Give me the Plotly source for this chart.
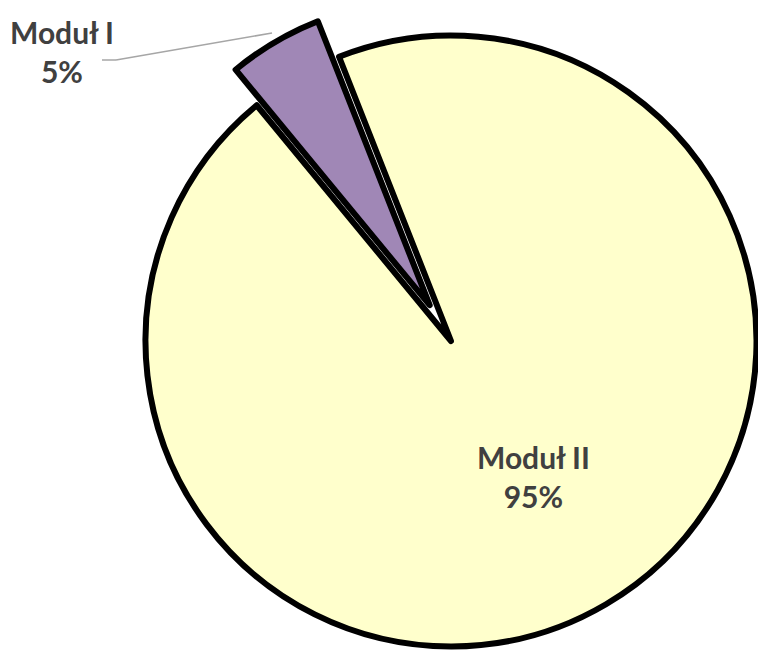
import math
import plotly.graph_objects as go

# Share of each module
labels = ["Moduł I", "Moduł II"]
values = [5, 95]
colors = ["#A087B6", "#FFFFCC"]

W, H = 758, 650
R = 305.5            # pie radius in px
LW = 6               # outline width
CX, CY = 451, 341    # centre of the main pie
PULL_PX = 42         # how far the small slice is pulled out
ROT = -39.5          # start angle of the first slice (deg, clockwise from 12 o'clock)

total = sum(values)
mid = math.radians(ROT + 360 * values[0] / total / 2)
PX = CX + PULL_PX * math.sin(mid)
PY = CY - PULL_PX * math.cos(mid)


def domain(cx, cy, r):
    return dict(
        x=[max(0, (cx - r) / W), min(1, (cx + r) / W)],
        y=[max(0, 1 - (cy + r) / H), min(1, 1 - (cy - r) / H)],
    )


def pie(cx, cy, show):
    fill = [c if s else "rgba(0,0,0,0)" for c, s in zip(colors, show)]
    widths = [LW if s else 0 for s in show]
    return go.Pie(
        labels=labels,
        values=values,
        sort=False,
        direction="clockwise",
        rotation=ROT,
        textinfo="none",
        hoverinfo="label+percent",
        showlegend=False,
        domain=domain(cx, cy, R),
        marker=dict(colors=fill, line=dict(color="black", width=widths)),
    )


fig = go.Figure()
fig.add_trace(pie(CX, CY, [False, True]))   # large slice
fig.add_trace(pie(PX, PY, [True, False]))   # exploded small slice

pcts = [round(100 * v / total) for v in values]
font = dict(family="Lato, 'Open Sans', sans-serif", size=30, color="#404040")
label_pos = [(62, 52), (533, 476)]
for lab, p, (x, y) in zip(labels, pcts, label_pos):
    fig.add_annotation(
        x=x / W, y=1 - y / H, xref="paper", yref="paper",
        text=f"<b>{lab}</b><br><b>{p}%</b>", showarrow=False,
        font=font, align="center", xanchor="center", yanchor="middle",
    )

# leader line to the small slice
pts = [(102, 60), (116, 60), (272, 33)]
for (x0, y0), (x1, y1) in zip(pts[:-1], pts[1:]):
    fig.add_shape(
        type="line", xref="paper", yref="paper",
        x0=x0 / W, y0=1 - y0 / H, x1=x1 / W, y1=1 - y1 / H,
        line=dict(color="#A6A6A6", width=1.5),
    )

fig.update_layout(
    width=W, height=H,
    margin=dict(l=0, r=0, t=0, b=0),
    paper_bgcolor="white", plot_bgcolor="white",
)

fig.write_html("out.html")
